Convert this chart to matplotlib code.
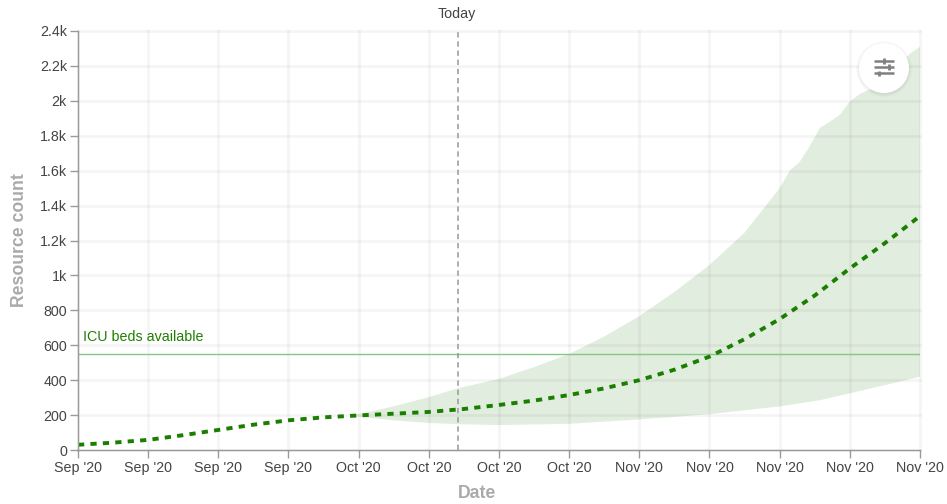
import pandas as pd
import matplotlib
matplotlib.use('Agg')
import matplotlib.pyplot as plt
import matplotlib.dates as mdates
from matplotlib.patches import Circle
from matplotlib.ticker import FuncFormatter

plt.rcParams['font.family'] = ['Liberation Sans', 'DejaVu Sans']

# days are counted from the first date on the axis
START = '2020-09-07'
tick_days = [0, 7, 14, 21, 28, 35, 42, 49, 56, 63, 70, 77, 84]
y_ticks = [0, 200, 400, 600, 800, 1000, 1200, 1400, 1600, 1800, 2000, 2200, 2400]
today_day = 37.9
icu_beds = 550

line_days = [0, 3.5, 7, 10.5, 14, 17.5, 21, 24.5, 28, 31.5, 35, 38.5, 42, 45.5, 49, 52.5,
             56, 59.5, 63, 66.5, 70, 73.5, 77, 80.5, 84]
line_vals = [30, 42, 58, 85, 115, 145, 170, 187, 198, 208, 218, 235, 258, 283, 315, 353,
             400, 460, 535, 635, 750, 885, 1040, 1185, 1340]

upper_days = [27, 28, 31.5, 35, 38, 42, 45.5, 49, 52.5, 56, 59.5, 63, 66.5, 70, 71, 72,
              73, 74, 75, 76, 77, 78, 79, 80, 81, 82, 83, 84]
upper_vals = [198, 205, 250, 303, 355, 407, 475, 550, 650, 767, 905, 1060, 1245, 1500, 1600, 1650,
              1740, 1845, 1880, 1920, 1995, 2040, 2065, 2085, 2150, 2210, 2270, 2310]
lower_days = [27, 28, 31.5, 35, 38, 42, 49, 56, 63, 70, 74, 77, 81.5, 84]
lower_vals = [198, 190, 170, 155, 148, 143, 150, 175, 205, 250, 285, 325, 385, 420]


def to_dates(days):
    return pd.to_datetime(START) + pd.to_timedelta(days, unit='D')


def k_label(v, pos):
    return '%gk' % (v / 1000) if v >= 1000 else '%d' % v


W, H = 947, 504
fig = plt.figure(figsize=(W / 100, H / 100), dpi=100)
ax = fig.add_axes([78 / W, 1 - 450 / H, 842 / W, 419 / H])

# band, with the grid showing through
ax.fill(to_dates(upper_days + lower_days[::-1]), upper_vals + lower_vals[::-1],
        color='#1e7a00', alpha=0.13, lw=0, zorder=1)

ax.plot(to_dates(line_days), line_vals, color='#1a7f00', lw=2.8,
        ls=(0, (1.6, 1.6)), dash_capstyle='butt', zorder=4)
ax.axhline(icu_beds, color='#82c882', lw=1, zorder=3)
ax.text(to_dates([0.5])[0], 605, 'ICU beds available', color='#1e8000',
        fontsize=10.3, ha='left', va='bottom', zorder=5)

ax.set_xlim(to_dates([0])[0], to_dates([84])[0])
ax.set_ylim(0, 2400)
ax.set_xticks(to_dates(tick_days))
ax.xaxis.set_major_formatter(mdates.DateFormatter("%b '%y"))
ax.set_yticks(y_ticks)
ax.yaxis.set_major_formatter(FuncFormatter(k_label))

ax.grid(True, color='#000000', alpha=0.04, lw=2, zorder=2)
ax.set_axisbelow(False)
for line in ax.get_xgridlines() + ax.get_ygridlines():
    line.set_zorder(2)
    line.set_clip_on(False)

ax.tick_params(colors='#9a9a9a', labelcolor='#444444', labelsize=10.3, length=6, width=1, pad=2)
ax.spines['top'].set_visible(False)
ax.spines['right'].set_visible(False)
for side in ['left', 'bottom']:
    ax.spines[side].set_color('#9a9a9a')
    ax.spines[side].set_linewidth(1)
    ax.spines[side].set_zorder(6)

today = to_dates([today_day])[0]
ax.axvline(today, color='#999999', lw=1.1, ls=(0, (3.5, 2.5)), ymax=0.997, zorder=5)
ax.annotate('Today', (today, 2400), xytext=(-0.7, 12.5), textcoords='offset points',
            ha='center', va='center', fontsize=10.3, color='#444444', annotation_clip=False)

fig.text(477 / W, 1 - 493 / H, 'Date', ha='center', va='center',
         fontsize=12.7, fontweight='bold', color='#aaaaaa')
fig.text(19 / W, 1 - 240 / H, 'Resource count', ha='center', va='center', rotation=90,
         fontsize=12.7, fontweight='bold', color='#aaaaaa')

# settings button drawn in pixel coordinates
over = fig.add_axes([0, 0, 1, 1], facecolor='none')
over.set_xlim(0, W)
over.set_ylim(H, 0)
over.axis('off')
for r, a in [(28, 0.015), (27, 0.02), (26, 0.03)]:
    over.add_patch(Circle((884, 69), r, color='#000000', alpha=a, lw=0))
over.add_patch(Circle((884, 68), 25, color='white', lw=0))
for y, kx in [(60.7, 884), (67, 889), (73.3, 879)]:
    over.plot([874, 894], [y, y], color='#808080', lw=1.8, solid_capstyle='butt')
    over.plot([kx, kx], [y - 2.8, y + 2.8], color='#808080', lw=2, solid_capstyle='butt')

fig.savefig('out.png', dpi=100)
